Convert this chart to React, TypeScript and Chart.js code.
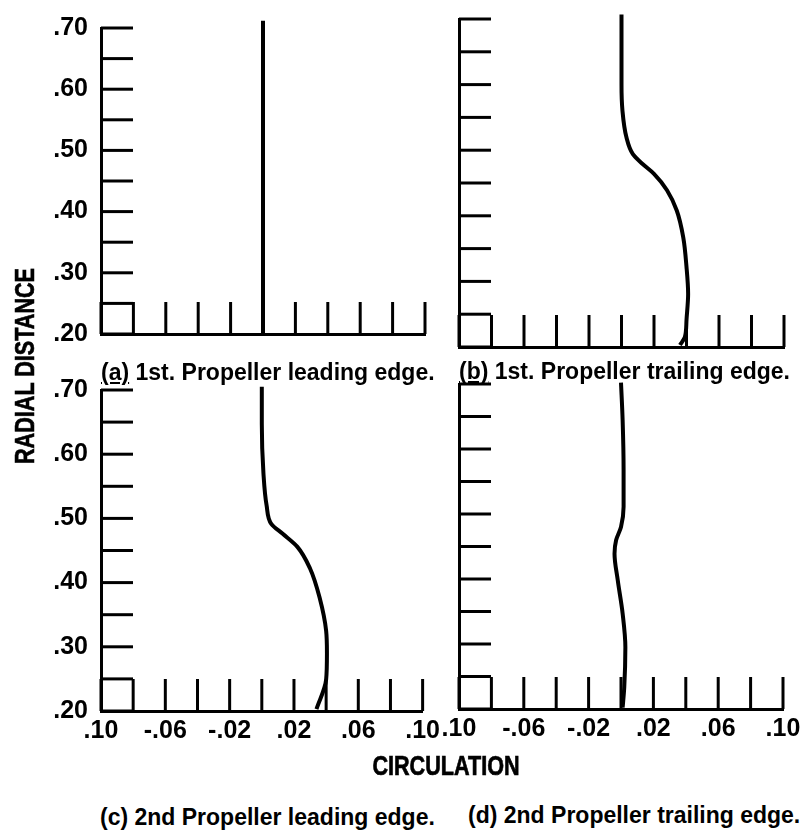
import React, { useEffect, useRef } from "react";
import { Chart, registerables } from "chart.js";

Chart.register(...registerables);

// ---- tick labels ----
const yTickLabels = [".20", ".30", ".40", ".50", ".60", ".70"];
const xTickLabels = [".10", "-.06", "-.02", ".02", ".06", ".10"];

// ---- panel (a): 1st propeller leading edge ----
const aRadius = [0.2, 0.712];
const aCirc = [0.0, 0.0];

// ---- panel (b): 1st propeller trailing edge ----
const bRadius = [0.203, 0.215, 0.241, 0.281, 0.322, 0.367, 0.408, 0.439, 0.464, 0.479, 0.494, 0.52, 0.56, 0.6, 0.65, 0.707];
const bCirc = [0.036, 0.039, 0.04, 0.041, 0.04, 0.038, 0.034, 0.028, 0.02, 0.013, 0.007, 0.003, 0.0006, 0.0, 0.0, 0.0];

// ---- panel (c): 2nd propeller leading edge ----
const cRadius = [0.203, 0.249, 0.29, 0.325, 0.376, 0.422, 0.456, 0.476, 0.491, 0.52, 0.571, 0.647, 0.705];
const cCirc = [0.034, 0.04, 0.0405, 0.04, 0.036, 0.03, 0.022, 0.013, 0.006, 0.003, 0.001, 0.0, 0.0];

// ---- panel (d): 2nd propeller trailing edge ----
const dRadius = [0.202, 0.233, 0.295, 0.347, 0.398, 0.439, 0.46, 0.48, 0.511, 0.568, 0.645, 0.702];
const dCirc = [0.001, 0.002, 0.0027, 0.001, -0.002, -0.004, -0.003, 0.0, 0.0016, 0.0016, 0.001, 0.0];

const FONT = "'Liberation Sans', Arial, sans-serif";
const TICK_LEN = 32;

const inwardTicks = {
  id: "inwardTicks",
  beforeDatasetsDraw(chart: any) {
    const { ctx } = chart;
    const xs = chart.scales.x;
    const ys = chart.scales.y;
    const bottom = ys.getPixelForValue(ys.min);
    const left = xs.getPixelForValue(xs.min);
    ctx.save();
    ctx.strokeStyle = "#000";
    ctx.lineWidth = 3;
    ctx.lineCap = "butt";
    xs.ticks.forEach((t: any) => {
      const px = xs.getPixelForValue(t.value);
      ctx.beginPath();
      ctx.moveTo(px, bottom);
      ctx.lineTo(px, bottom - TICK_LEN);
      ctx.stroke();
    });
    ys.ticks.forEach((t: any) => {
      const py = ys.getPixelForValue(t.value);
      ctx.beginPath();
      ctx.moveTo(left, py);
      ctx.lineTo(left + TICK_LEN, py);
      ctx.stroke();
    });
    ctx.restore();
  },
};

type Box = { left: number; top: number; width: number; height: number };
type Area = { left: number; top: number; right: number; bottom: number };

function Panel(props: {
  radius: number[];
  circ: number[];
  box: Box;
  area: Area;
  showX: boolean;
  showY: boolean;
}) {
  const ref = useRef<HTMLCanvasElement | null>(null);
  const { radius, circ, box, area, showX, showY } = props;

  useEffect(() => {
    if (!ref.current) return;
    const yWidth = area.left - box.left;
    const padTop = area.top - box.top;
    const padRight = box.left + box.width - area.right;
    const xHeight = box.top + box.height - area.bottom;
    const tickFont = { family: FONT, size: 25, weight: "bold" as const };

    const chart = new Chart(ref.current, {
      type: "line",
      data: {
        datasets: [
          {
            data: radius.map((r, i) => ({ x: circ[i], y: r })),
            borderColor: "#000",
            borderWidth: 4,
            pointRadius: 0,
            fill: false,
            cubicInterpolationMode: "monotone",
            clip: false as any,
          },
        ],
      },
      options: {
        animation: false,
        responsive: false,
        maintainAspectRatio: false,
        indexAxis: "y",
        events: [],
        layout: {
          padding: { left: 0, top: padTop, right: padRight, bottom: 0 },
          autoPadding: false,
        },
        plugins: {
          legend: { display: false },
          tooltip: { enabled: false },
          title: { display: false },
        },
        scales: {
          x: {
            type: "linear",
            position: "bottom",
            min: -0.1,
            max: 0.1,
            grid: { display: false, drawTicks: false },
            border: { display: true, color: "#000", width: 3 },
            ticks: {
              display: showX,
              stepSize: 0.02,
              autoSkip: false,
              maxRotation: 0,
              padding: 5,
              color: "#000",
              font: tickFont,
              callback: (_v: any, i: number) => (i % 2 === 0 ? xTickLabels[i / 2] : ""),
            },
            afterFit: (s: any) => {
              s.height = xHeight;
            },
          },
          y: {
            type: "linear",
            position: "left",
            min: 0.2,
            max: 0.7,
            grid: { display: false, drawTicks: false },
            border: { display: true, color: "#000", width: 3 },
            ticks: {
              display: showY,
              stepSize: 0.05,
              autoSkip: false,
              padding: 13,
              color: "#000",
              font: tickFont,
              callback: (_v: any, i: number) => (i % 2 === 0 ? yTickLabels[i / 2] : ""),
            },
            afterFit: (s: any) => {
              s.width = yWidth;
            },
          },
        },
      } as any,
      plugins: [inwardTicks],
    });
    return () => chart.destroy();
  }, []);

  return (
    <canvas
      ref={ref}
      width={box.width}
      height={box.height}
      style={{
        position: "absolute",
        left: box.left,
        top: box.top,
        width: box.width,
        height: box.height,
      }}
    />
  );
}

const textBase: React.CSSProperties = {
  position: "absolute",
  fontFamily: FONT,
  fontWeight: "bold",
  color: "#000",
  whiteSpace: "nowrap",
  lineHeight: 1,
};

export default function App() {
  return (
    <div
      style={{
        position: "absolute",
        left: 0,
        top: 0,
        width: 812,
        height: 837,
        background: "#fff",
        overflow: "hidden",
      }}
    >
      <Panel
        radius={aRadius}
        circ={aCirc}
        box={{ left: 0, top: 0, width: 445, height: 362 }}
        area={{ left: 101, top: 20, right: 425, bottom: 348 }}
        showX={false}
        showY={true}
      />
      <Panel
        radius={bRadius}
        circ={bCirc}
        box={{ left: 415, top: 0, width: 397, height: 362 }}
        area={{ left: 459, top: 19, right: 784, bottom: 347 }}
        showX={false}
        showY={false}
      />
      <Panel
        radius={cRadius}
        circ={cCirc}
        box={{ left: 0, top: 362, width: 445, height: 400 }}
        area={{ left: 101, top: 385, right: 425, bottom: 711 }}
        showX={true}
        showY={true}
      />
      <Panel
        radius={dRadius}
        circ={dCirc}
        box={{ left: 415, top: 362, width: 397, height: 400 }}
        area={{ left: 459, top: 384, right: 783, bottom: 709 }}
        showX={true}
        showY={false}
      />

      <div style={{ ...textBase, left: 101, top: 361, fontSize: 23 }}>
        <span style={{ textDecoration: "underline" }}>(a)</span> 1st. Propeller leading edge.
      </div>
      <div style={{ ...textBase, left: 459, top: 360, fontSize: 23 }}>
        <span style={{ textDecoration: "underline" }}>(b)</span> 1st. Propeller trailing edge.
      </div>
      <div style={{ ...textBase, left: 100, top: 806, fontSize: 23 }}>
        (c) 2nd Propeller leading edge.
      </div>
      <div style={{ ...textBase, left: 468, top: 804, fontSize: 23 }}>
        (d) 2nd Propeller trailing edge.
      </div>

      <div
        style={{
          ...textBase,
          left: 346,
          top: 753,
          width: 200,
          textAlign: "center",
          fontSize: 27,
          transform: "scaleX(0.8)",
          transformOrigin: "50% 50%",
          WebkitTextStroke: "0.7px #000",
        }}
      >
        CIRCULATION
      </div>
      <div
        style={{
          ...textBase,
          left: 25 - 120,
          top: 368 - 13,
          width: 240,
          height: 26,
          textAlign: "center",
          fontSize: 27,
          transform: "rotate(-90deg) scaleX(0.8)",
          transformOrigin: "50% 50%",
          WebkitTextStroke: "0.7px #000",
        }}
      >
        RADIAL DISTANCE
      </div>
    </div>
  );
}
